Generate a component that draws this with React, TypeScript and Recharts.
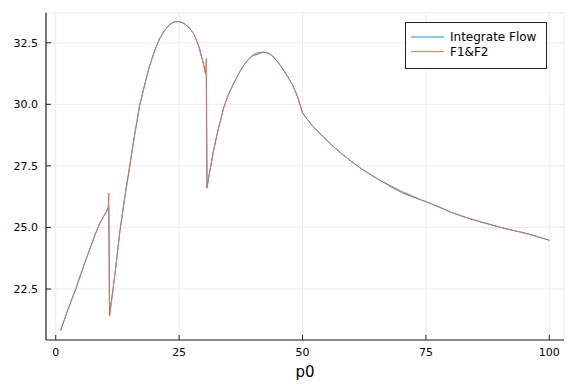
import React from 'react';
import { LineChart, Line, XAxis, YAxis, CartesianGrid } from 'recharts';

// ---- data ----
const xTicks = [0, 25, 50, 75, 100];
const yTicks = [22.5, 25, 27.5, 30, 32.5];

const flowP0 = [
  1, 2, 3, 4, 5, 6, 7, 8, 9, 10, 10.6, 10.75, 10.9, 11, 12, 13, 14, 15, 16, 17, 18, 19, 20,
  21, 22, 23, 24, 25, 26, 27, 28, 29, 30, 30.35, 30.5, 30.65, 31, 32, 33, 34, 35, 36, 37, 38,
  39, 40, 41, 42, 43, 44, 45, 46, 47, 48, 49, 50, 52, 54, 56, 58, 60, 62, 64, 66, 68,
  70, 72, 74, 76, 78, 80, 82, 84, 86, 88, 90, 92, 94, 96, 98, 100,
];
const flowValues = [
  20.82, 21.4, 21.95, 22.47, 23.05, 23.62, 24.18, 24.72, 25.2, 25.55, 25.78, 25.82, 21.4, 21.56,
  23.1, 24.85, 26.24, 27.5, 28.78, 29.95, 30.78, 31.55, 32.15, 32.65, 32.98, 33.23, 33.35,
  33.36, 33.28, 33.12, 32.85, 32.35, 31.58, 31.25, 31.2, 26.6, 27.05, 28.15, 29.05, 29.85, 30.4,
  30.83, 31.22, 31.56, 31.82, 31.98, 32.04, 32.12, 32.08, 31.95, 31.72, 31.44, 31.12,
  30.78, 30.3, 29.65, 29.12, 28.72, 28.33, 27.98, 27.67, 27.37, 27.12, 26.88, 26.64, 26.43,
  26.26, 26.12, 25.97, 25.8, 25.62, 25.48, 25.35, 25.23, 25.12, 25.01, 24.91, 24.82, 24.72,
  24.6, 24.48,
];

const f1f2P0 = [
  1, 2, 3, 4, 5, 6, 7, 8, 9, 10, 10.6, 10.75, 10.9, 11, 12, 13, 14, 15, 16, 17, 18, 19, 20,
  21, 22, 23, 24, 25, 26, 27, 28, 29, 30, 30.35, 30.5, 30.65, 31, 32, 33, 34, 35, 36, 37, 38,
  39, 40, 41, 42, 43, 44, 45, 46, 47, 48, 49, 50, 52, 54, 56, 58, 60, 62, 64, 66, 68,
  70, 72, 74, 76, 78, 80, 82, 84, 86, 88, 90, 92, 94, 96, 98, 100,
];
const f1f2Values = [
  20.82, 21.4, 21.95, 22.47, 23.05, 23.62, 24.18, 24.72, 25.2, 25.55, 25.78, 26.4, 21.4, 21.56,
  23.1, 24.85, 26.24, 27.5, 28.78, 29.95, 30.78, 31.55, 32.15, 32.65, 32.98, 33.23, 33.35,
  33.36, 33.28, 33.12, 32.85, 32.35, 31.58, 31.25, 31.86, 26.6, 27.05, 28.15, 29.05, 29.85, 30.4,
  30.83, 31.22, 31.56, 31.82, 32.02, 32.1, 32.12, 32.08, 31.95, 31.72, 31.44, 31.12,
  30.78, 30.3, 29.65, 29.12, 28.72, 28.33, 27.98, 27.67, 27.37, 27.12, 26.88, 26.68, 26.47,
  26.3, 26.12, 25.97, 25.8, 25.62, 25.48, 25.35, 25.23, 25.12, 25.01, 24.91, 24.82, 24.72,
  24.6, 24.48,
];

const seriesNames = ['Integrate Flow', 'F1&F2'];
const seriesColors = ['#009af9', '#e26f46'];

const flowData = flowP0.map((x, i) => ({ x, y: flowValues[i] }));
const f1f2Data = f1f2P0.map((x, i) => ({ x, y: f1f2Values[i] }));

const FONT = 'DejaVu Sans';

const YTick = (props: any) => {
  const { x, y, payload } = props;
  const ax = x + 8;
  return (
    <g>
      <line x1={ax} x2={ax + 5} y1={y} y2={y} stroke="#222" strokeWidth={1} />
      <text x={x} y={y} dy="0.36em" textAnchor="end" fontSize={11} fill="#000" fontFamily={FONT}>
        {Number(payload.value).toFixed(1)}
      </text>
    </g>
  );
};

const XTick = (props: any) => {
  const { x, y, payload } = props;
  const ay = y - 8;
  return (
    <g>
      <line x1={x} x2={x} y1={ay} y2={ay - 5} stroke="#222" strokeWidth={1} />
      <text x={x} y={y} dy="0.71em" textAnchor="middle" fontSize={11} fill="#000" fontFamily={FONT}>
        {String(payload.value)}
      </text>
    </g>
  );
};

const LegendBox = () => (
  <svg width={142} height={47} style={{ display: 'block' }}>
    <rect x={0.5} y={0.5} width={141} height={46} fill="#fff" stroke="#222" strokeWidth={1} />
    {seriesNames.map((name, i) => (
      <g key={name}>
        <line x1={6} x2={39} y1={15 + i * 14.6} y2={15 + i * 14.6} stroke={seriesColors[i]} strokeWidth={1} />
        <text x={45} y={19.3 + i * 14.6} fontSize={12} fontFamily={FONT} fill="#000">
          {name}
        </text>
      </g>
    ))}
  </svg>
);

export default function App() {
  return (
    <div style={{ position: 'absolute', left: 0, top: 0, width: 576, height: 384, background: '#fff' }}>
      <LineChart width={576} height={384} margin={{ top: 12.7, right: 12, bottom: 0, left: 0 }}>
        <CartesianGrid stroke="#ececec" strokeWidth={1} />
        <XAxis
          type="number"
          dataKey="x"
          domain={[-1.97, 102.97]}
          ticks={xTicks}
          allowDataOverflow
          height={44}
          tickSize={0}
          tickMargin={8}
          tickLine={false}
          tick={<XTick />}
          axisLine={{ stroke: '#222', strokeWidth: 1.2 }}
          label={{ value: 'p0', position: 'insideBottom', offset: 7, fontSize: 15, fill: '#000', fontFamily: FONT }}
        />
        <YAxis
          type="number"
          dataKey="y"
          domain={[20.43, 33.72]}
          ticks={yTicks}
          allowDataOverflow
          width={46}
          tickSize={0}
          tickMargin={8}
          tickLine={false}
          tick={<YTick />}
          axisLine={{ stroke: '#222', strokeWidth: 1.2 }}
        />
        <Line
          data={flowData}
          dataKey="y"
          name={seriesNames[0]}
          type="linear"
          stroke={seriesColors[0]}
          strokeWidth={1}
          dot={false}
          isAnimationActive={false}
        />
        <Line
          data={f1f2Data}
          dataKey="y"
          name={seriesNames[1]}
          type="linear"
          stroke={seriesColors[1]}
          strokeWidth={1}
          dot={false}
          isAnimationActive={false}
        />
      </LineChart>
      <div style={{ position: 'absolute', left: 405, top: 22 }}>
        <LegendBox />
      </div>
    </div>
  );
}
